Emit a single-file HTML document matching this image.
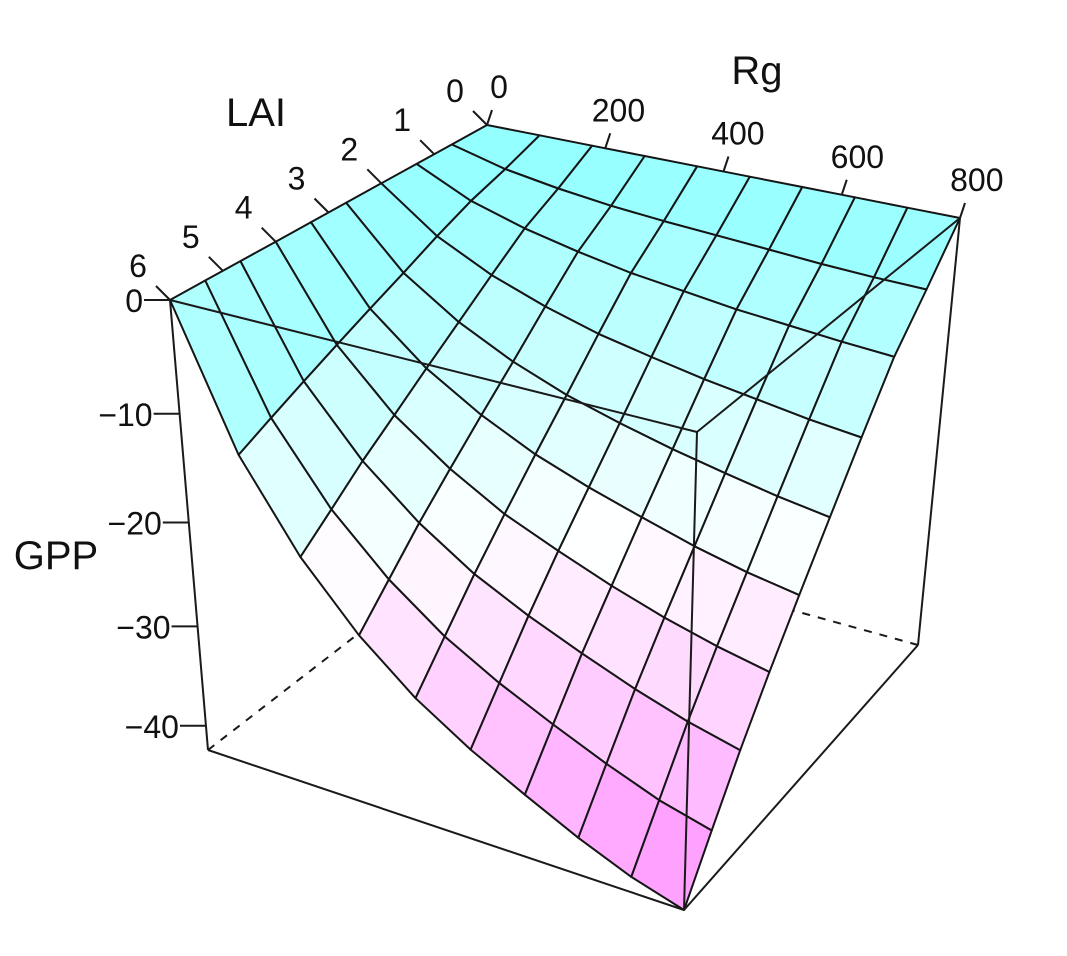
<!DOCTYPE html>
<html><head><meta charset="utf-8"><style>
html,body{margin:0;padding:0;background:#fff;}
svg{display:block;font-family:"Liberation Sans",sans-serif;}
</style></head><body>
<svg id="chart" width="1067" height="956" viewBox="0 0 1067 956" xmlns="http://www.w3.org/2000/svg">
<g id="back"></g>
<g id="surf"></g>
<g id="front"></g>
<g id="axes"></g>
<text x="256" y="126" font-size="40" text-anchor="middle" fill="#111">LAI</text>
<text x="757" y="84" font-size="40" text-anchor="middle" fill="#111">Rg</text>
<text x="56" y="569" font-size="40" text-anchor="middle" fill="#111">GPP</text>
</svg>
<script>
const rgValues = [0, 88.9, 177.8, 266.7, 355.6, 444.4, 533.3, 622.2, 711.1, 800];
const laiValues = [0, 0.667, 1.333, 2, 2.667, 3.333, 4, 4.667, 5.333, 6];
// gpp[j][i] : row j = LAI index, column i = Rg index
const gpp = [
 [0,0,0,0,0,0,0,0,0,0],
 [0,-1.3,-2.1,-2.7,-3.1,-3.4,-3.7,-4.0,-4.2,-4.3],
 [0,-2.4,-3.9,-5.0,-5.9,-6.5,-7.1,-7.5,-7.9,-8.2],
 [0,-3.8,-6.3,-8.1,-9.5,-10.5,-11.4,-12.1,-12.8,-13.3],
 [0,-5.3,-8.7,-11.2,-13.1,-14.5,-15.7,-16.7,-17.6,-18.3],
 [0,-6.7,-11.0,-14.1,-16.5,-18.3,-19.8,-21.2,-22.3,-23.1],
 [0,-8.1,-13.3,-17.0,-19.9,-22.0,-23.9,-25.5,-26.8,-27.8],
 [0,-9.5,-15.5,-19.9,-23.3,-25.8,-27.9,-29.8,-31.4,-32.6],
 [0,-10.9,-17.9,-23.0,-26.9,-29.8,-32.2,-34.4,-36.3,-37.6],
 [0,-12.3,-20.2,-26.0,-30.4,-33.7,-36.4,-38.9,-41.0,-42.5]
];
const rgTicks = [0, 200, 400, 600, 800];
const laiTicks = [0, 1, 2, 3, 4, 5, 6];
const zTicks = [0, -10, -20, -30, -40];
const zTickLabels = ["0", "\u221210", "\u221220", "\u221230", "\u221240"];

const NS = "http://www.w3.org/2000/svg";
const RGMAX = 800, LAIMAX = 6, ZMAX = 0, ZMIN = -42.5, PERS = 0.1;
const TA=[487,125], TB=[960,218], TC=[170,300], TD=[697,432];
const BA=[495,528], BB=[918,645], BC=[208,750], BD=[684,910];
function bil(P00,P10,P01,P11,u,v){
  return [(1-u)*(1-v)*P00[0]+u*(1-v)*P10[0]+(1-u)*v*P01[0]+u*v*P11[0],
          (1-u)*(1-v)*P00[1]+u*(1-v)*P10[1]+(1-u)*v*P01[1]+u*v*P11[1]];
}
function proj(rg, lai, z){
  const u = rg/RGMAX, v = lai/LAIMAX;
  const t = (z-ZMAX)/(ZMIN-ZMAX);
  const s = t*(1+PERS)/(1+PERS*t);
  const T = bil(TA,TB,TC,TD,u,v), B = bil(BA,BB,BC,BD,u,v);
  return [T[0]+s*(B[0]-T[0]), T[1]+s*(B[1]-T[1])];
}
function line(g, p, q, name, dash){
  const l = document.createElementNS(NS,'line');
  l.setAttribute('x1',p[0]); l.setAttribute('y1',p[1]);
  l.setAttribute('x2',q[0]); l.setAttribute('y2',q[1]);
  l.setAttribute('stroke','#1a1a1a'); l.setAttribute('stroke-width','2');
  if(dash) l.setAttribute('stroke-dasharray','8 8');
  
  
  g.appendChild(l);
}
function text(g, x, y, str, anchor, name){
  const t = document.createElementNS(NS,'text');
  t.setAttribute('x',x); t.setAttribute('y',y);
  t.setAttribute('font-size','32'); t.setAttribute('fill','#111');
  t.setAttribute('text-anchor',anchor);
  t.textContent = str;
  
  
  g.appendChild(t);
}
function colorFor(z){
  const t = Math.max(0, Math.min(1, z/ZMIN));
  const c1=[145,255,255], w=[255,255,255], c2=[255,145,255];
  let r;
  if(t<0.5){const k=t/0.5; r=c1.map((a,i)=>a+(w[i]-a)*k);} else {const k=(t-0.5)/0.5; r=w.map((a,i)=>a+(c2[i]-a)*k);}
  return 'rgb('+r.map(Math.round).join(',')+')';
}
const back = document.getElementById('back');
const Ab = proj(0,0,ZMIN);
line(back, proj(0,LAIMAX,ZMIN), Ab, 'back-edge-lai', true);
line(back, proj(RGMAX,0,ZMIN), Ab, 'back-edge-rg', true);
line(back, proj(0,0,ZMAX), Ab, 'back-edge-vertical', true);
const surf = document.getElementById('surf');
const facets = [];
for(let j=0;j<laiValues.length-1;j++) for(let i=0;i<rgValues.length-1;i++) facets.push([i,j]);
facets.sort((a,b)=>(a[0]+a[1])-(b[0]+b[1]));
facets.forEach(([i,j])=>{
  const pts = [[i,j],[i+1,j],[i+1,j+1],[i,j+1]].map(([a,b])=>proj(rgValues[a],laiValues[b],gpp[b][a]));
  const zm = (gpp[j][i]+gpp[j][i+1]+gpp[j+1][i]+gpp[j+1][i+1])/4;
  const p = document.createElementNS(NS,'polygon');
  p.setAttribute('points', pts.map(q=>q[0].toFixed(1)+','+q[1].toFixed(1)).join(' '));
  p.setAttribute('fill', colorFor(zm));
  p.setAttribute('stroke','#151515'); p.setAttribute('stroke-width','2');
  p.setAttribute('stroke-linejoin','round');
  
  
  surf.appendChild(p);
});
const front = document.getElementById('front');
const Ct=proj(0,LAIMAX,ZMAX), Bt=proj(RGMAX,0,ZMAX), Dt=proj(RGMAX,LAIMAX,ZMAX);
const Cb=proj(0,LAIMAX,ZMIN), Bb=proj(RGMAX,0,ZMIN), Db=proj(RGMAX,LAIMAX,ZMIN);
line(front, Ct, Dt, 'box-top-front-left');
line(front, Bt, Dt, 'box-top-front-right');
line(front, Dt, Db, 'box-front-vertical');
line(front, Ct, Cb, 'box-left-vertical');
line(front, Bt, Bb, 'box-right-vertical');
line(front, Cb, Db, 'box-bottom-front-left');
line(front, Bb, Db, 'box-bottom-front-right');
const axes = document.getElementById('axes');
laiTicks.forEach(v=>{
  const p = proj(0,v,ZMAX);
  line(axes, p, [p[0]-14,p[1]-14], 'lai-tick');
  text(axes, p[0]-32, p[1]-23, String(v), 'middle', 'lai-tick-label');
});
rgTicks.forEach(v=>{
  const p = proj(v,0,ZMAX);
  line(axes, p, [p[0]+5,p[1]-15], 'rg-tick');
  text(axes, p[0]+12+v*0.006, p[1]-27, String(v), 'middle', 'rg-tick-label');
});
zTicks.forEach((v,k)=>{
  const p = proj(0,LAIMAX,v);
  line(axes, p, [p[0]-26,p[1]], 'gpp-tick');
  text(axes, p[0]-27, p[1]+12, zTickLabels[k], 'end', 'gpp-tick-label');
});
</script>
</body></html>
